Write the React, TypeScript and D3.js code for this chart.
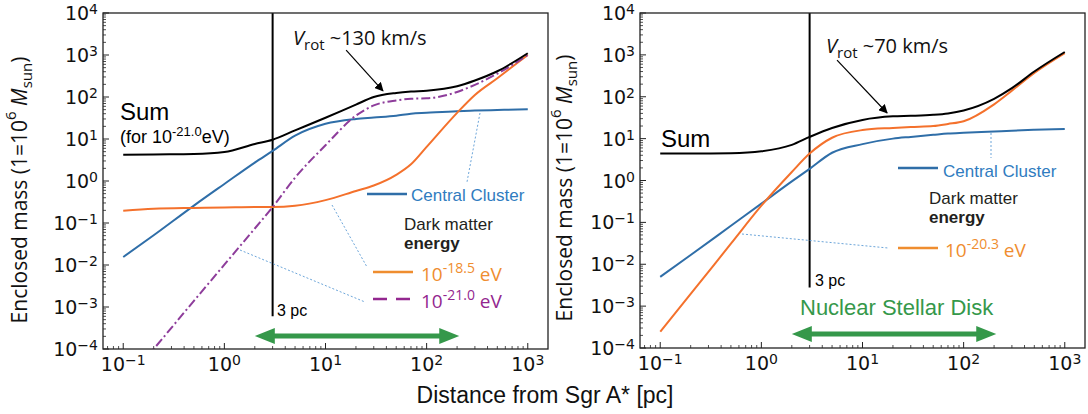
import React from 'react';
import * as d3 from 'd3';

// ---------- data ----------
const radii = [0.1, 0.2, 0.5, 1, 2, 3, 5, 10, 20, 30, 50, 70, 100, 200, 300, 500, 1000];

// left panel (dark matter 10^-21.0 eV in the sum)
const leftSum = [4.2, 4.3, 4.4, 4.9, 7.6, 9.6, 16, 32, 66, 100, 125, 135, 141, 180, 247, 410, 1100];
const leftCluster = [0.0155, 0.051, 0.26, 0.85, 2.75, 5.2, 12, 23, 30, 32.5, 36, 40, 42, 46, 47.5, 49, 51];
const leftDM185 = [0.195, 0.219, 0.229, 0.234, 0.24, 0.24, 0.257, 0.35, 0.58, 0.78, 1.4, 2.5, 6.5, 42, 112, 280, 1000];
const leftDM210 = [1.4e-5, 1e-4, 1.4e-3, 0.0102, 0.074, 0.24, 1.2, 7.1, 36, 63, 83, 91, 93, 132, 195, 360, 1000];

// right panel (dark matter 10^-20.3 eV)
const rightSum = [4.4, 4.4, 4.5, 5.0, 7.1, 11, 18, 28, 34, 35, 37, 40, 47, 89, 160, 400, 1170];
const rightCluster = [0.005, 0.0166, 0.083, 0.28, 0.95, 1.9, 4.6, 7.4, 10, 11, 12.3, 13.2, 13.8, 14.8, 15.5, 16.2, 17];
const rightDM203 = [2.45e-4, 1.95e-3, 0.031, 0.25, 1.6, 4.4, 10.5, 16, 18, 19, 20, 22.4, 26, 66, 140, 370, 1100];

const xTickExps = [-1, 0, 1, 2, 3];
const yTickExps = [-4, -3, -2, -1, 0, 1, 2, 3, 4];
const nsdRange = [2, 210];
const threePc = 3;

const C_BLACK = '#000000';
const C_BLUE = '#2f6ea8';
const C_ORANGE = '#f4712c';
const C_PURPLE = '#8e3d9b';
const C_GREEN = '#35984a';
const C_LEG_BLUE = '#2f7cc0';
const C_LEG_ORANGE = '#ef8d2f';
const C_LEG_PURPLE = '#93278f';
const C_DOT = '#5b9bd5';

const TICK_FONT = '"DejaVu Sans", sans-serif';
const SANS = '"Liberation Sans", Arial, sans-serif';
const MYR = '"Open Sans", "Liberation Sans", sans-serif';

type Series = { values: number[]; color: string; dash?: string };

type PanelProps = {
  id: string;
  x0: number; x1: number; y0: number; y1: number;
  series: Series[];
  lineEndM: number;
  children?: (x: d3.ScaleLogarithmic<number, number>, y: d3.ScaleLogarithmic<number, number>) => React.ReactNode;
};

function Pow({ exp, fs, sfs, dy }: { exp: string; fs: number; sfs: number; dy: number }) {
  return (
    <>
      <tspan fontSize={fs}>10</tspan>
      <tspan fontSize={sfs} dy={-dy}>{exp}</tspan>
    </>
  );
}

function Panel({ id, x0, x1, y0, y1, series, lineEndM, children }: PanelProps) {
  const x = d3.scaleLog().domain([Math.pow(10, -1.2), Math.pow(10, 3.2)]).range([x0, x1]);
  const y = d3.scaleLog().domain([1e-4, 1e4]).range([y1, y0]);
  const line = d3
    .line<[number, number]>()
    .x((d) => x(d[0]))
    .y((d) => y(d[1]))
    .curve(d3.curveMonotoneX);

  const [xd0, xd1] = x.domain();
  const xMinor: number[] = [];
  for (let e = -2; e <= 3; e++) for (let k = 2; k <= 9; k++) {
    const v = k * Math.pow(10, e);
    if (v > xd0 && v < xd1) xMinor.push(v);
  }
  const yMinor: number[] = [];
  for (let e = -4; e <= 3; e++) for (let k = 2; k <= 9; k++) yMinor.push(k * Math.pow(10, e));

  const fmt = (e: number) => (e < 0 ? '\u2212' + Math.abs(e) : String(e));

  return (
    <g>
      <defs>
        <clipPath id={`clip-${id}`}>
          <rect x={x0} y={y0} width={x1 - x0} height={y1 - y0} />
        </clipPath>
      </defs>
      {xTickExps.map((e) => (
        <line key={'xt' + e} x1={x(Math.pow(10, e))} x2={x(Math.pow(10, e))} y1={y1} y2={y1 - 6} stroke="#222" strokeWidth={1} />
      ))}
      {xMinor.map((v, i) => (
        <line key={'xm' + i} x1={x(v)} x2={x(v)} y1={y1} y2={y1 - 3} stroke="#222" strokeWidth={0.8} />
      ))}
      {yTickExps.map((e) => (
        <line key={'yt' + e} x1={x0} x2={x0 + 6} y1={y(Math.pow(10, e))} y2={y(Math.pow(10, e))} stroke="#222" strokeWidth={1} />
      ))}
      {yMinor.map((v, i) => (
        <line key={'ym' + i} x1={x0} x2={x0 + 3} y1={y(v)} y2={y(v)} stroke="#222" strokeWidth={0.8} />
      ))}
      {xTickExps.map((e) => (
        <text key={'xl' + e} x={x(Math.pow(10, e))} y={y1 + 22} textAnchor="middle" fontFamily={TICK_FONT} fill="#111">
          <Pow exp={fmt(e)} fs={19} sfs={14} dy={6} />
        </text>
      ))}
      {yTickExps.map((e) => (
        <text key={'yl' + e} x={x0 - 5} y={y(Math.pow(10, e)) + 7} textAnchor="end" fontFamily={TICK_FONT} fill="#111">
          <Pow exp={fmt(e)} fs={19} sfs={14} dy={6} />
        </text>
      ))}
      <line x1={x(threePc)} x2={x(threePc)} y1={y0} y2={y(lineEndM)} stroke="#000" strokeWidth={2} />
      <g clipPath={`url(#clip-${id})`}>
        {series.map((s, i) => (
          <path
            key={i}
            d={line(radii.map((r, j) => [r, s.values[j]] as [number, number])) || ''}
            fill="none"
            stroke={s.color}
            strokeWidth={2}
            strokeDasharray={s.dash}
          />
        ))}
      </g>
      {children && children(x, y)}
      <rect x={x0} y={y0} width={x1 - x0} height={y1 - y0} fill="none" stroke="#222" strokeWidth={1.3} />
    </g>
  );
}

function GreenArrow({ xa, xb, yv }: { xa: number; xb: number; yv: number }) {
  const hl = 20, hh = 8;
  return (
    <g fill={C_GREEN}>
      <line x1={xa + hl - 2} x2={xb - hl + 2} y1={yv} y2={yv} stroke={C_GREEN} strokeWidth={5} />
      <polygon points={`${xa},${yv} ${xa + hl},${yv - hh} ${xa + hl},${yv + hh}`} />
      <polygon points={`${xb},${yv} ${xb - hl},${yv - hh} ${xb - hl},${yv + hh}`} />
    </g>
  );
}

function Dotted({ pts }: { pts: [number, number, number, number] }) {
  return <line x1={pts[0]} y1={pts[1]} x2={pts[2]} y2={pts[3]} stroke={C_DOT} strokeWidth={0.9} strokeDasharray="2,2" />;
}

function YLabel({ cx, cy }: { cx: number; cy: number }) {
  return (
    <text transform={`translate(${cx},${cy}) rotate(-90)`} textAnchor="middle" fontFamily={MYR} fontSize={21} fill="#111">
      Enclosed mass (1=10
      <tspan fontSize={15} dy={-11}>6</tspan>
      <tspan dy={11} fontStyle="italic"> M</tspan>
      <tspan fontSize={15} dy={5}>sun</tspan>
      <tspan dy={-5}>)</tspan>
    </text>
  );
}

function DarkMatterTitle({ x, y }: { x: number; y: number }) {
  return (
    <g fontFamily={SANS} fontSize={17} fill="#231f20">
      <text x={x} y={y}>Dark matter</text>
      <text x={x} y={y + 19} fontWeight={700}>energy</text>
    </g>
  );
}

export default function App() {
  const L = { x0: 103, x1: 548, y0: 13, y1: 349 };
  const R = { x0: 640, x1: 1085, y0: 13, y1: 348 };
  return (
    <div style={{ position: 'fixed', left: 0, top: 0 }}>
      <svg width={1088} height={414} viewBox="0 0 1088 414" style={{ display: 'block', background: '#fff' }}>
        <defs>
          <marker id="ah" viewBox="0 0 10 10" refX="9" refY="5" markerWidth="9" markerHeight="9" orient="auto-start-reverse" markerUnits="userSpaceOnUse">
            <path d="M0,0 L10,5 L0,10 z" fill="#000" />
          </marker>
        </defs>

        <Panel
          id="L"
          {...L}
          lineEndM={6e-4}
          series={[
            { values: leftCluster, color: C_BLUE },
            { values: leftDM185, color: C_ORANGE },
            { values: leftDM210, color: C_PURPLE, dash: '9,3,2,3' },
            { values: leftSum, color: C_BLACK },
          ]}
        >
          {(x, y) => (
            <g>
              <GreenArrow xa={x(nsdRange[0])} xb={x(nsdRange[1])} yv={L.y1 - 13} />
              <line x1={x(16)} y1={y(1300)} x2={x(37)} y2={y(140)} stroke="#000" strokeWidth={1.2} markerEnd="url(#ah)" />
            </g>
          )}
        </Panel>

        <Panel
          id="R"
          {...R}
          lineEndM={2.8e-3}
          series={[
            { values: rightCluster, color: C_BLUE },
            { values: rightDM203, color: C_ORANGE },
            { values: rightSum, color: C_BLACK },
          ]}
        >
          {(x, y) => (
            <g>
              <GreenArrow xa={x(nsdRange[0])} xb={x(nsdRange[1])} yv={R.y1 - 14} />
              <line x1={x(5.6)} y1={y(750)} x2={x(17.5)} y2={y(41)} stroke="#000" strokeWidth={1.2} markerEnd="url(#ah)" />
            </g>
          )}
        </Panel>

        <Dotted pts={[480, 113, 467, 182]} />
        <Dotted pts={[332, 205, 367, 267]} />
        <Dotted pts={[240, 250, 365, 302]} />
        <Dotted pts={[991, 133, 991, 158]} />
        <Dotted pts={[742, 234, 888, 248]} />

        {/* left annotations */}
        <text x={120} y={120} fontFamily={SANS} fontSize={24} fill="#000">Sum</text>
        <text x={120} y={143} fontFamily={SANS} fontSize={18} fill="#000">
          (for 10<tspan fontSize={13} dy={-7}>-21.0</tspan>
          <tspan dy={7}>eV)</tspan>
        </text>
        <text x={293} y={45} fontFamily={MYR} fontSize={20} fill="#111">
          <tspan fontStyle="italic">V</tspan>
          <tspan fontSize={15} dy={5}>rot</tspan>
          <tspan dy={-5}> ~130 km/s</tspan>
        </text>
        <text x={277} y={316} fontFamily={SANS} fontSize={16} fill="#000">3 pc</text>

        <line x1={367} x2={407} y1={194} y2={194} stroke={C_BLUE} strokeWidth={2.5} />
        <text x={411} y={201} fontFamily={SANS} fontSize={17} fill={C_LEG_BLUE}>Central Cluster</text>
        <DarkMatterTitle x={404} y={230} />
        <line x1={373} x2={413} y1={272} y2={272} stroke={C_LEG_ORANGE} strokeWidth={2.5} />
        <text x={421} y={281} fontFamily={MYR} fontSize={19} fill={C_LEG_ORANGE}>
          10<tspan fontSize={14} dy={-8}>-18.5</tspan>
          <tspan dy={8}> eV</tspan>
        </text>
        <line x1={373} x2={413} y1={299} y2={299} stroke={C_LEG_PURPLE} strokeWidth={2.5} strokeDasharray="14,9" />
        <text x={421} y={308} fontFamily={MYR} fontSize={19} fill={C_LEG_PURPLE}>
          10<tspan fontSize={14} dy={-8}>-21.0</tspan>
          <tspan dy={8}> eV</tspan>
        </text>

        {/* right annotations */}
        <text x={661} y={147} fontFamily={SANS} fontSize={24} fill="#000">Sum</text>
        <text x={826} y={53} fontFamily={MYR} fontSize={20} fill="#111">
          <tspan fontStyle="italic">V</tspan>
          <tspan fontSize={15} dy={5}>rot</tspan>
          <tspan dy={-5}> ~70 km/s</tspan>
        </text>
        <text x={815} y={286} fontFamily={SANS} fontSize={16} fill="#000">3 pc</text>
        <line x1={898} x2={938} y1={168} y2={168} stroke={C_BLUE} strokeWidth={2.5} />
        <text x={943} y={177} fontFamily={SANS} fontSize={17} fill={C_LEG_BLUE}>Central Cluster</text>
        <DarkMatterTitle x={929} y={204} />
        <line x1={898} x2={938} y1={248} y2={248} stroke={C_LEG_ORANGE} strokeWidth={2.5} />
        <text x={945} y={257} fontFamily={MYR} fontSize={19} fill={C_LEG_ORANGE}>
          10<tspan fontSize={14} dy={-8}>-20.3</tspan>
          <tspan dy={8}> eV</tspan>
        </text>
        <text x={800} y={315} fontFamily={SANS} fontSize={22} fill={C_GREEN}>Nuclear Stellar Disk</text>

        <YLabel cx={27} cy={190} />
        <YLabel cx={572} cy={188} />
        <text x={545} y={403} textAnchor="middle" fontFamily={SANS} fontSize={23} fill="#111">
          Distance from Sgr A* [pc]
        </text>
      </svg>
    </div>
  );
}
